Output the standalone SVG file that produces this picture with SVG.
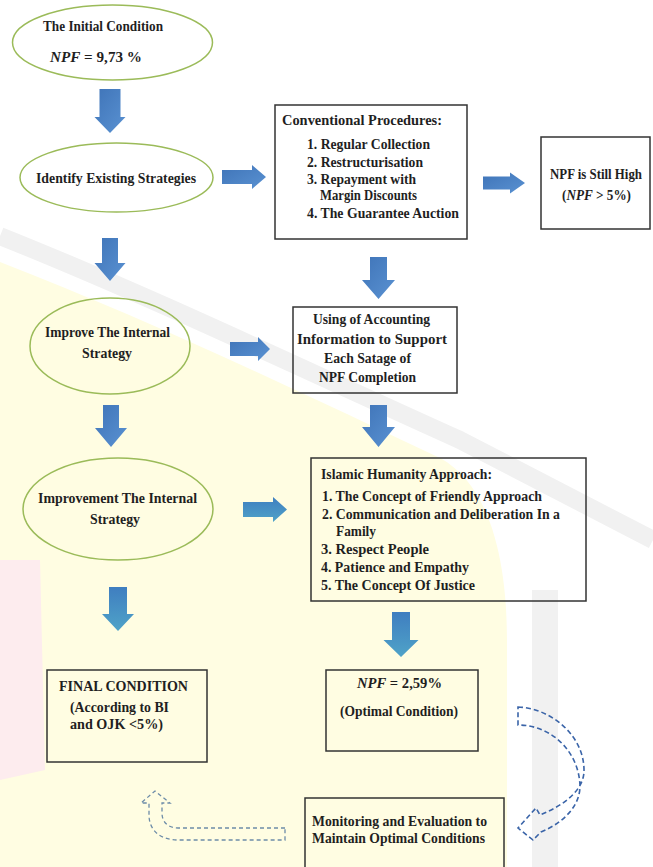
<svg xmlns="http://www.w3.org/2000/svg" width="653" height="867" viewBox="0 0 653 867" font-family="'Liberation Serif', 'DejaVu Serif', serif">
<style>
  text { font-family: "Liberation Serif", "DejaVu Serif", serif; font-weight: bold; font-size: 15px; fill: #1f1f1f; }
  .sm { font-size: 14px; }
  .it { font-style: italic; }
  .ell { fill: none; stroke: #9bbb59; stroke-width: 1.5; }
  .box { fill: none; stroke: #333333; stroke-width: 1.5; }
  .arr { fill: url(#gBlue); }
  .arrT { fill: url(#gTeal); }
  .dashR { fill: none; stroke: #3a64a8; stroke-width: 1.6; stroke-dasharray: 5 3; }
  .dashL { fill: none; stroke: #6d8ca8; stroke-width: 1.3; stroke-dasharray: 4 3; }
  .wm { fill: none; stroke: #f1f1f1; }
</style>
<defs>
  <linearGradient id="gBlue" x1="0" y1="0" x2="1" y2="1">
    <stop offset="0" stop-color="#3f74b8"/>
    <stop offset="1" stop-color="#5a92d2"/>
  </linearGradient>
  <linearGradient id="gTeal" x1="0" y1="0" x2="0" y2="1">
    <stop offset="0" stop-color="#3f7ec0"/>
    <stop offset="1" stop-color="#4fa3c8"/>
  </linearGradient>
</defs>
<rect x="0" y="0" width="653" height="867" fill="#ffffff"/>
<g id="watermark">
  <path d="M0,262 C150,320 300,392 440,458 C490,485 507,560 507,640 L507,867 L0,867 Z" fill="#fffde2"/>
  <path class="wm" d="M0,236 C150,296 300,368 460,440 L653,540" stroke-width="18"/>
  <path class="wm" d="M545,590 L545,867" stroke-width="26"/>
  <path d="M0,560 L40,560 L45,770 L0,780 Z" fill="#fdecee"/>
</g>
<g id="connectors">
  <polygon id="a1" class="arr" points="99.5,89 120.5,89 120.5,117 125.5,117 110,133 94.5,117 99.5,117"/>
  <polygon id="a2" class="arr" points="222,170 252,170 252,165 266,177 252,189 252,184 222,184"/>
  <polygon id="a3" class="arr" points="483,176.5 510,176.5 510,172.5 525,183 510,193.5 510,189.5 483,189.5"/>
  <polygon id="a4" class="arr" points="102,238 118,238 118,263 125.5,263 110,281 94.5,263 102,263"/>
  <polygon id="a5" class="arr" points="370,257 387,257 387,280 395,280 378.5,299 362,280 370,280"/>
  <polygon id="a6" class="arr" points="230,342 258,342 258,337 270,349 258,361 258,356 230,356"/>
  <polygon id="a7" class="arr" points="103,405 119,405 119,428 127,428 111,447 95,428 103,428"/>
  <polygon id="a8" class="arr" points="370,405 387,405 387,427 395,427 378.5,447 362,427 370,427"/>
  <polygon id="a9" class="arrT" points="243,502 273,502 273,497 287,509.5 273,522 273,517 243,517"/>
  <polygon id="a10" class="arrT" points="109,587 127,587 127,614 134,614 118,631 102,614 109,614"/>
  <polygon id="a11" class="arrT" points="392,612 410,612 410,640 418.5,640 401,657 383.5,640 392,640"/>
  <path id="loopR" class="dashR" d="M518,707 C550,708 585,735 584,772 C583,790 565,805 540,815 L536,808 L518,828 L533,840 L541,832 C565,822 580,805 580,786 C579,752 552,725 518,725 Z"/>
  <path id="loopL" class="dashL" d="M285,828 L178,828 C168,828 162,822 162,813 L162,803 L170,803 L155,791 L141,803 L149,803 L149,815 C149,830 160,840 178,840 L285,840 Z"/>
</g>
<g id="initial">
  <ellipse class="ell" cx="112.5" cy="42.5" rx="100" ry="37.5"/>
  <text x="43" y="31" textLength="120" lengthAdjust="spacingAndGlyphs">The Initial Condition</text>
  <text x="50" y="62" textLength="92" lengthAdjust="spacingAndGlyphs"><tspan class="it">NPF</tspan> = 9,73 %</text>
</g>
<g id="identify">
  <ellipse class="ell" cx="116.5" cy="177.5" rx="96.5" ry="34.5"/>
  <text x="36" y="183" textLength="160" lengthAdjust="spacingAndGlyphs">Identify Existing Strategies</text>
</g>
<g id="conventional">
  <rect class="box" x="275" y="105" width="192" height="134"/>
  <text x="282" y="125" textLength="160" lengthAdjust="spacingAndGlyphs">Conventional Procedures:</text>
  <text x="307" y="149" textLength="123" lengthAdjust="spacingAndGlyphs">1. Regular Collection</text>
  <text x="307" y="167" textLength="116" lengthAdjust="spacingAndGlyphs">2. Restructurisation</text>
  <text x="307" y="184" textLength="109" lengthAdjust="spacingAndGlyphs">3. Repayment with</text>
  <text x="320" y="200" textLength="97" lengthAdjust="spacingAndGlyphs">Margin Discounts</text>
  <text x="307" y="218" textLength="152" lengthAdjust="spacingAndGlyphs">4. The Guarantee Auction</text>
</g>
<g id="still-high">
  <rect class="box" x="541" y="137" width="109" height="92"/>
  <text class="sm" x="550" y="179" textLength="92" lengthAdjust="spacingAndGlyphs">NPF is Still High</text>
  <text class="sm" x="562" y="200" textLength="69" lengthAdjust="spacingAndGlyphs">(<tspan class="it">NPF</tspan> &gt; 5%)</text>
</g>
<g id="improve">
  <ellipse class="ell" cx="110" cy="346" rx="80" ry="48"/>
  <text x="45" y="337" textLength="125" lengthAdjust="spacingAndGlyphs">Improve The Internal</text>
  <text x="82" y="358" textLength="50" lengthAdjust="spacingAndGlyphs">Strategy</text>
</g>
<g id="accounting">
  <rect class="box" x="293" y="307" width="164" height="86"/>
  <text x="313" y="324" textLength="117" lengthAdjust="spacingAndGlyphs">Using of Accounting</text>
  <text x="297" y="344" textLength="150" lengthAdjust="spacingAndGlyphs">Information to Support</text>
  <text x="324" y="363" textLength="87" lengthAdjust="spacingAndGlyphs">Each Satage of</text>
  <text x="319" y="382" textLength="97" lengthAdjust="spacingAndGlyphs">NPF Completion</text>
</g>
<g id="improvement">
  <ellipse class="ell" cx="118" cy="509" rx="95" ry="51"/>
  <text x="38" y="503" textLength="159" lengthAdjust="spacingAndGlyphs">Improvement The Internal</text>
  <text x="90" y="524" textLength="50" lengthAdjust="spacingAndGlyphs">Strategy</text>
</g>
<g id="islamic">
  <rect class="box" x="311" y="458" width="275" height="143"/>
  <text x="321" y="479" textLength="171" lengthAdjust="spacingAndGlyphs">Islamic Humanity Approach:</text>
  <text x="322" y="501" textLength="220" lengthAdjust="spacingAndGlyphs">1. The Concept of Friendly Approach</text>
  <text x="322" y="519" textLength="238" lengthAdjust="spacingAndGlyphs">2. Communication and Deliberation In a</text>
  <text x="336" y="536" textLength="40" lengthAdjust="spacingAndGlyphs">Family</text>
  <text x="321" y="554" textLength="108" lengthAdjust="spacingAndGlyphs">3. Respect People</text>
  <text x="321" y="572" textLength="148" lengthAdjust="spacingAndGlyphs">4. Patience and Empathy</text>
  <text x="321" y="590" textLength="154" lengthAdjust="spacingAndGlyphs">5. The Concept Of Justice</text>
</g>
<g id="final">
  <rect class="box" x="47" y="670" width="160" height="92"/>
  <text x="59" y="691" textLength="129" lengthAdjust="spacingAndGlyphs">FINAL CONDITION</text>
  <text x="70" y="712" textLength="99" lengthAdjust="spacingAndGlyphs">(According to BI</text>
  <text x="70" y="729" textLength="93" lengthAdjust="spacingAndGlyphs">and OJK &lt;5%)</text>
</g>
<g id="optimal">
  <rect class="box" x="326" y="670" width="152" height="81"/>
  <text x="357" y="688" textLength="85" lengthAdjust="spacingAndGlyphs"><tspan class="it">NPF</tspan> = 2,59%</text>
  <text x="340" y="716" textLength="118" lengthAdjust="spacingAndGlyphs">(Optimal Condition)</text>
</g>
<g id="monitoring">
  <rect class="box" x="305" y="798" width="199" height="70"/>
  <text x="312" y="826" textLength="175" lengthAdjust="spacingAndGlyphs">Monitoring and Evaluation to</text>
  <text x="312" y="843" textLength="173" lengthAdjust="spacingAndGlyphs">Maintain Optimal Conditions</text>
</g>
</svg>
